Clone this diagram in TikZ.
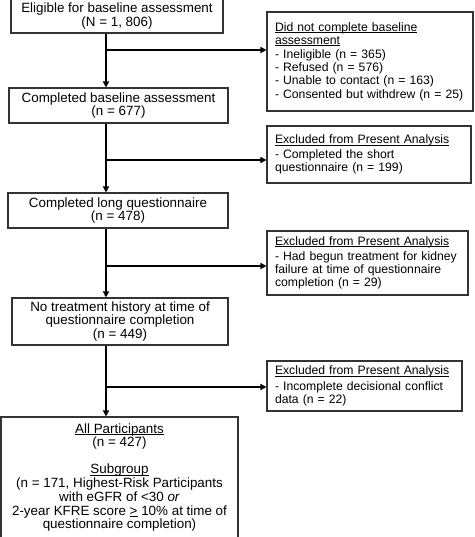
\documentclass[tikz,border=0pt]{standalone}
\usepackage{fontspec}
\setmainfont{Liberation Sans}
\usetikzlibrary{arrows.meta}
\newcommand\uln[1]{\leavevmode\setbox0\hbox{#1}\rlap{\rule[-1.7pt]{\wd0}{0.6pt}}\box0\relax}
\hyphenpenalty=10000\relax
\begin{document}
\begin{tikzpicture}[x=1pt,y=-1pt,
  mainbox/.style={draw=black!80, line width=1.1pt, align=center,
    font=\fontsize{13.4}{13.8}\selectfont, inner sep=0pt},
  sidebox/.style={draw=black!80, line width=1.1pt, align=left,
    font=\fontsize{12.2}{13.2}\selectfont, inner xsep=8pt, inner ysep=0pt},
  conn/.style={line width=2pt, -{Triangle[length=6pt,width=6pt]}}
  ]
\useasboundingbox (0,0) rectangle (474,537);

% main column
\node[mainbox, minimum width=212pt, minimum height=34pt] (b1) at (117,16)
  {Eligible for baseline assessment\\(N = 1, 806)};
\node[mainbox, minimum width=219pt, minimum height=35pt] (b2) at (118.5,105.5)
  {Completed baseline assessment\\(n = 677)};
\node[mainbox, minimum width=220pt, minimum height=35pt] (b3) at (118,210.5)
  {Completed long questionnaire\\(n = 478)};
\node[mainbox, minimum width=216pt, minimum height=47pt] (b4) at (120,321.5)
  {No treatment history at time of\\questionnaire completion\\(n = 449)};
\node[mainbox, minimum width=237pt, minimum height=121pt] (b5) at (119.5,477.5)
  {\uln{All Participants}\\(n = 427)\\[13pt]
   \uln{Subgroup}\\(n = 171, Highest-Risk Participants\\
   with eGFR of <30 \textit{or}\\
   2-year KFRE score \uln{>} 10\% at time of\\
   questionnaire completion)};

% side boxes
\node[sidebox, text width=190pt, minimum height=99pt] (r1) at (370,61.5)
  {\uln{Did not complete baseline}\\\uln{assessment}\\[1pt]
   - Ineligible (n = 365)\\
   - Refused (n = 576)\\
   - Unable to contact (n = 163)\\
   - Consented but withdrew (n = 25)};
\node[sidebox, text width=188pt, minimum height=57pt] (r2) at (369,154.5)
  {\uln{Excluded from Present Analysis}\\[2pt]
   - Completed the short\\questionnaire (n = 199)};
\node[sidebox, text width=185pt, minimum height=64pt] (r3) at (367.5,263)
  {\uln{Excluded from Present Analysis}\\[2pt]
   - Had begun treatment for kidney\\failure at time of questionnaire\\completion (n = 29)};
\node[sidebox, text width=179pt, minimum height=50pt] (r4) at (364.5,386)
  {\uln{Excluded from Present Analysis}\\[2pt]
   - Incomplete decisional conflict\\data (n = 22)};

% junctions
\coordinate (j1) at (106,50);
\coordinate (j2) at (106,160);
\coordinate (j3) at (106,266);
\coordinate (j4) at (106,387);

\draw[conn] (b1.south -| j1) -- (b2.north -| j1);
\draw[conn] (b2.south -| j2) -- (b3.north -| j2);
\draw[conn] (b3.south -| j3) -- (b4.north -| j3);
\draw[conn] (b4.south -| j4) -- (b5.north -| j4);

\draw[conn] (j1) -- (r1.west |- j1);
\draw[conn] (j2) -- (r2.west |- j2);
\draw[conn] (j3) -- (r3.west |- j3);
\draw[conn] (j4) -- (r4.west |- j4);
\end{tikzpicture}
\end{document}
